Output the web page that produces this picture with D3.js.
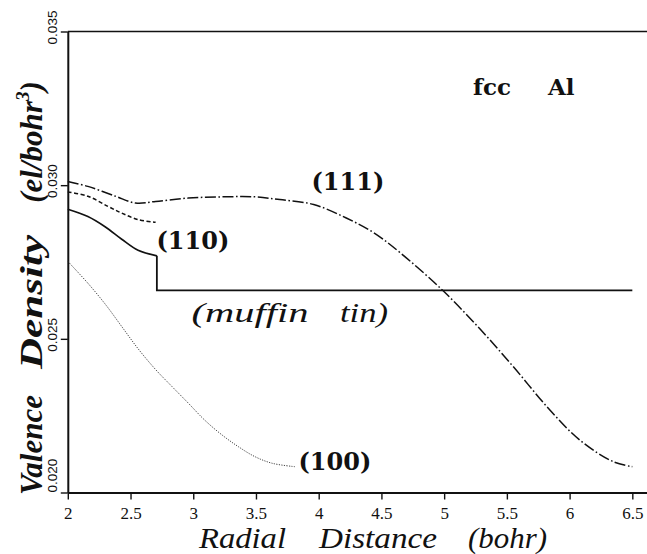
<!DOCTYPE html>
<html><head><meta charset="utf-8">
<script src="https://cdn.jsdelivr.net/npm/d3@7"></script>
<style>
html,body{margin:0;padding:0;background:#fff;}
svg{display:block;}
</style></head>
<body>
<svg id="chart" width="647" height="554"></svg>
<script>
// Valence density of fcc Al along the (111), (110), (100) directions and its muffin-tin form
const xTicks = [2, 2.5, 3, 3.5, 4, 4.5, 5, 5.5, 6, 6.5];
const yTicks = [0.020, 0.025, 0.030, 0.035];

const r111 = [2.0, 2.16, 2.38, 2.54, 2.7, 2.96, 3.23, 3.49, 3.69, 3.96, 4.22, 4.44, 4.65, 4.99, 5.29, 5.55, 5.82, 6.08, 6.35, 6.5];
const rho111 = [0.03012, 0.02996, 0.02964, 0.02942, 0.02947, 0.02958, 0.02962, 0.02962, 0.02953, 0.02937, 0.02893, 0.02845, 0.0278, 0.02657, 0.0253, 0.0241, 0.02279, 0.02171, 0.021, 0.02084];

const r110 = [2.0, 2.16, 2.32, 2.43, 2.56, 2.70];
const rho110 = [0.02978, 0.02964, 0.02931, 0.02909, 0.02888, 0.02879];

const r100 = [2.0, 2.16, 2.30, 2.43, 2.56, 2.70, 2.83, 2.96, 3.09, 3.23, 3.36, 3.49, 3.63, 3.81];
const rho100 = [0.02752, 0.02681, 0.02612, 0.0254, 0.02468, 0.024, 0.02345, 0.02291, 0.02236, 0.02187, 0.02149, 0.02117, 0.02095, 0.02084];

// muffin tin: spherical average inside the sphere, constant in the interstitial
const rSphere = [2.0, 2.16, 2.30, 2.43, 2.56, 2.71];
const rhoSphere = [0.02922, 0.02898, 0.02864, 0.02824, 0.02788, 0.0277];
const muffinTinRadius = 2.71;
const rhoInterstitial = 0.02658;
const rOuter = 6.5;

const svg = d3.select("#chart");
const x = d3.scaleLinear().domain([2, 6.617]).range([67.8, 647]);
const y = d3.scaleLinear().domain([0.020, 0.035]).range([492.5, 31.5]);
const ink = "#111";

// frame: bottom axis, left axis, top rule
const xAxis = svg.append("g")
  .attr("transform", `translate(0,${y(0.020)})`)
  .call(d3.axisBottom(x).tickValues(xTicks).tickSize(7).tickSizeOuter(0).tickFormat(d => String(d)));
xAxis.select(".domain").attr("stroke", ink).attr("stroke-width", 2);
xAxis.selectAll(".tick line").attr("stroke", ink).attr("stroke-width", 1.4);
xAxis.selectAll(".tick text")
  .attr("y", 14).attr("dy", "0.71em")
  .attr("font-family", "'Liberation Serif', serif")
  .attr("font-size", 17).attr("fill", ink);

const yAxis = svg.append("g")
  .attr("transform", `translate(${x(2)},0)`)
  .call(d3.axisLeft(y).tickValues(yTicks).tickSize(7).tickSizeOuter(0).tickFormat(""));
yAxis.select(".domain").attr("stroke", ink).attr("stroke-width", 2);
yAxis.selectAll(".tick line").attr("stroke", ink).attr("stroke-width", 1.4);

svg.append("line")
  .attr("x1", x(2)).attr("x2", x(6.617))
  .attr("y1", y(0.035)).attr("y2", y(0.035))
  .attr("stroke", ink).attr("stroke-width", 1.6);

// rotated y tick labels
svg.selectAll("text.ylab").data(yTicks).enter().append("text")
  .attr("class", "ylab")
  .attr("transform", (d, i) => `translate(${x(2) - 11},${y(d) - (i === 0 ? 0 : 4)}) rotate(-90)`)
  .attr("text-anchor", (d, i) => i === 0 ? "start" : "middle")
  .attr("font-family", "'Liberation Sans', Arial, sans-serif")
  .attr("font-size", 13.5).attr("fill", ink)
  .text(d3.format(".3f"));

// curves
const line = (rs, rhos) => d3.line().x(i => x(rs[i])).y(i => y(rhos[i])).curve(d3.curveCatmullRom.alpha(0.5))(d3.range(rs.length));

svg.append("path").attr("d", line(r111, rho111))
  .attr("fill", "none").attr("stroke", ink).attr("stroke-width", 1.5)
  .attr("stroke-dasharray", "11,2.5,1.6,2.5");

svg.append("path").attr("d", line(r110, rho110))
  .attr("fill", "none").attr("stroke", ink).attr("stroke-width", 1.5)
  .attr("stroke-dasharray", "4,2.5");

svg.append("path").attr("d", line(r100, rho100))
  .attr("fill", "none").attr("stroke", "#444").attr("stroke-width", 1)
  .attr("stroke-dasharray", "1.2,1.3");

svg.append("path").attr("d", line(rSphere, rhoSphere))
  .attr("fill", "none").attr("stroke", ink).attr("stroke-width", 1.6);

const rhoEdge = rhoSphere[rhoSphere.length - 1];
svg.append("path")
  .attr("d", d3.line()([
    [x(muffinTinRadius), y(rhoEdge)],
    [x(muffinTinRadius), y(rhoInterstitial)],
    [x(rOuter), y(rhoInterstitial)]
  ]))
  .attr("fill", "none").attr("stroke", ink).attr("stroke-width", 1.8);

// annotations
const bold = "'DejaVu Serif', serif";
const note = (txt, px, py, opts = {}) => {
  const t = svg.append("text")
    .attr("x", px).attr("y", py)
    .attr("font-family", opts.family || bold)
    .attr("font-weight", opts.weight || "bold")
    .attr("font-style", opts.style || "normal")
    .attr("font-size", opts.size || 24)
    .attr("fill", ink)
    .attr("text-anchor", opts.anchor || "start")
    .text(txt);
  if (opts.len) t.attr("textLength", opts.len).attr("lengthAdjust", "spacingAndGlyphs");
  return t;
};

note("(111)", 311.5, 189.5);
note("(110)", 156.5, 248.5);
note("(100)", 298.5, 470);
note("fcc", 473, 95, { size: 23 });
note("Al", 548, 95, { size: 23 });

const italic = "'Liberation Serif', serif";
note("(muffin", 191.5, 322, { family: italic, weight: "normal", style: "italic", size: 28, len: 117 });
note("tin)", 340, 322, { family: italic, weight: "normal", style: "italic", size: 28, len: 48 });

// axis titles, word by word
[["Radial", 242.5, 87], ["Distance", 378, 118], ["(bohr)", 507.5, 79]].forEach(([w, cx, len]) => {
  svg.append("text")
    .attr("x", cx).attr("y", 548)
    .attr("text-anchor", "middle")
    .attr("font-family", italic).attr("font-style", "italic")
    .attr("font-size", 29).attr("fill", ink)
    .attr("textLength", len).attr("lengthAdjust", "spacingAndGlyphs")
    .text(w);
});

const yTitle = [["Valence", 445, 100], ["Density", 302, 134]];
yTitle.forEach(([w, cy, len]) => {
  svg.append("text")
    .attr("transform", `translate(42,${cy}) rotate(-90)`)
    .attr("text-anchor", "middle")
    .attr("font-family", italic).attr("font-style", "italic").attr("font-weight", "bold")
    .attr("font-size", 31).attr("fill", ink)
    .attr("textLength", len).attr("lengthAdjust", "spacingAndGlyphs")
    .text(w);
});
const unit = svg.append("text")
  .attr("transform", `translate(42,142) rotate(-90)`)
  .attr("text-anchor", "middle")
  .attr("font-family", italic).attr("font-style", "italic").attr("font-weight", "bold")
  .attr("font-size", 31).attr("fill", ink);
unit.append("tspan").text("(el/bohr");
unit.append("tspan").attr("font-size", 19).attr("dy", -13).text("3");
unit.append("tspan").attr("dy", 13).text(")");
</script>
</body></html>
